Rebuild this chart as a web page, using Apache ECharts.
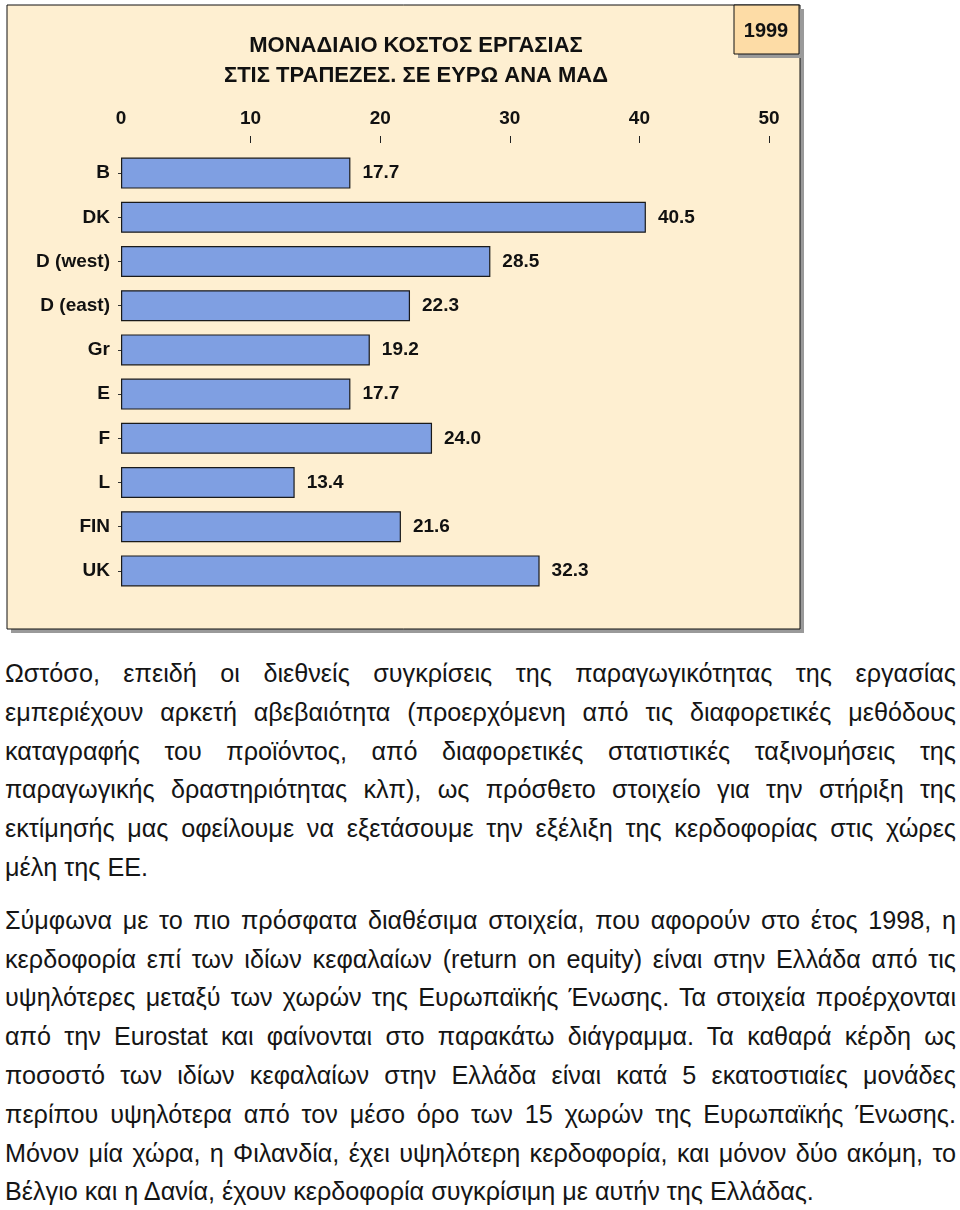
<!DOCTYPE html>
<html>
<head>
<meta charset="utf-8">
<script src="https://cdn.jsdelivr.net/npm/echarts@6/dist/echarts.min.js"></script>
<style>
html,body{margin:0;padding:0;background:#fff;}
#chart{position:absolute;left:0;top:0;width:960px;height:645px;}
#text{position:absolute;left:5px;top:654px;width:951px;font-family:"Liberation Sans",Arial,sans-serif;font-size:25.2px;color:#151515;}
.p{margin:0 0 14px 0;}
.l{display:block;height:38.8px;line-height:38.8px;white-space:nowrap;text-align:justify;text-align-last:justify;}
.l.last{text-align:left;text-align-last:left;}
</style>
</head>
<body>
<div id="chart"></div>
<div id="text"></div>
<script>
// ---- data ----
const categories = ['B', 'DK', 'D (west)', 'D (east)', 'Gr', 'E', 'F', 'L', 'FIN', 'UK'];
const values = [17.7, 40.5, 28.5, 22.3, 19.2, 17.7, 24.0, 13.4, 21.6, 32.3];
const tickLabels = ['0', '10', '20', '30', '40', '50'];
const titleLines = ['ΜΟΝΑΔΙΑΙΟ ΚΟΣΤΟΣ ΕΡΓΑΣΙΑΣ', 'ΣΤΙΣ ΤΡΑΠΕΖΕΣ. ΣΕ ΕΥΡΩ ΑΝΑ ΜΑΔ'];
const yearLabel = '1999';
const paragraph1 = [
  'Ωστόσο, επειδή οι διεθνείς συγκρίσεις της παραγωγικότητας της εργασίας',
  'εμπεριέχουν αρκετή αβεβαιότητα (προερχόμενη από τις διαφορετικές μεθόδους',
  'καταγραφής του προϊόντος, από διαφορετικές στατιστικές ταξινομήσεις της',
  'παραγωγικής δραστηριότητας κλπ), ως πρόσθετο στοιχείο για την στήριξη της',
  'εκτίμησής μας οφείλουμε να εξετάσουμε την εξέλιξη της κερδοφορίας στις χώρες',
  'μέλη της ΕΕ.'
];
const paragraph2 = [
  'Σύμφωνα με το πιο πρόσφατα διαθέσιμα στοιχεία, που αφορούν στο έτος 1998, η',
  'κερδοφορία επί των ιδίων κεφαλαίων (return on equity) είναι στην Ελλάδα από τις',
  'υψηλότερες μεταξύ των χωρών της Ευρωπαϊκής Ένωσης. Τα στοιχεία προέρχονται',
  'από την Eurostat και φαίνονται στο παρακάτω διάγραμμα. Τα καθαρά κέρδη ως',
  'ποσοστό των ιδίων κεφαλαίων στην Ελλάδα είναι κατά 5 εκατοστιαίες μονάδες',
  'περίπου υψηλότερα από τον μέσο όρο των 15 χωρών της Ευρωπαϊκής Ένωσης.',
  'Μόνον μία χώρα, η Φιλανδία, έχει υψηλότερη κερδοφορία, και μόνον δύο ακόμη, το',
  'Βέλγιο και η Δανία, έχουν κερδοφορία συγκρίσιμη με αυτήν της Ελλάδας.'
];

// ---- text below chart ----
const textDiv = document.getElementById('text');
[paragraph1, paragraph2].forEach(function (lines) {
  const p = document.createElement('div');
  p.className = 'p';
  lines.forEach(function (line, i) {
    const s = document.createElement('span');
    s.className = 'l' + (i === lines.length - 1 ? ' last' : '');
    s.textContent = line;
    p.appendChild(s);
  });
  textDiv.appendChild(p);
});

// ---- chart ----
const FONT = 'Liberation Sans';
const CREAM = '#FEEFD1';
const chart = echarts.init(document.getElementById('chart'), null, {renderer: 'canvas'});
chart.setOption({
  animation: false,
  backgroundColor: '#ffffff',
  graphic: [
    {type: 'rect', z: -10, shape: {x: 11, y: 9, width: 793, height: 624}, style: {fill: '#9a9a9a'}},
    {type: 'rect', z: -9, shape: {x: 7, y: 5, width: 793, height: 624}, style: {fill: CREAM, stroke: '#111', lineWidth: 1}},
    {type: 'rect', z: -8, shape: {x: 738, y: 9, width: 65, height: 49}, style: {fill: '#9a9a9a'}},
    {type: 'rect', z: -7, shape: {x: 734, y: 5, width: 65, height: 49}, style: {fill: '#FDDCA6', stroke: '#111', lineWidth: 1}},
    // the reference shows no tick mark at 0: mask it
    {type: 'rect', z: 50, shape: {x: 117, y: 134, width: 8, height: 11}, style: {fill: CREAM}},
    {type: 'text', z: 5, x: 766, y: 31, style: {text: yearLabel, font: 'bold 20px "Liberation Sans"', fill: '#111', align: 'center', verticalAlign: 'middle'}},
    {type: 'text', z: 5, x: 416, y: 46, style: {text: titleLines[0], font: 'bold 22px "Liberation Sans"', fill: '#111', align: 'center', verticalAlign: 'middle'}},
    {type: 'text', z: 5, x: 416, y: 76, style: {text: titleLines[1], font: 'bold 22px "Liberation Sans"', fill: '#111', align: 'center', verticalAlign: 'middle'}}
  ],
  grid: {left: 121, right: 191, top: 151, height: 442},
  xAxis: {
    type: 'value',
    position: 'top',
    min: 0, max: 50, interval: 10,
    offset: 8,
    axisLine: {show: false},
    axisTick: {show: true, length: 7, lineStyle: {color: '#222', width: 1}},
    axisLabel: {show: true, margin: 15, fontFamily: FONT, fontSize: 19, fontWeight: 'bold', color: '#111',
      formatter: function (v) { return tickLabels[Math.round(v / 10)]; }},
    splitLine: {show: false}
  },
  yAxis: {
    type: 'category',
    inverse: true,
    data: categories,
    axisLine: {show: false},
    axisTick: {show: true, alignWithLabel: true, length: 3, lineStyle: {color: '#333'}},
    axisLabel: {show: true, margin: 11, fontFamily: FONT, fontSize: 19, fontWeight: 'bold', color: '#111'}
  },
  series: [{
    type: 'bar',
    data: values,
    barWidth: 31,
    itemStyle: {color: '#7F9FE2', borderColor: '#1a1a1a', borderWidth: 1.2},
    label: {
      show: true, position: 'right', distance: 12,
      fontFamily: FONT, fontSize: 19, fontWeight: 'bold', color: '#111',
      formatter: function (p) { return p.value.toFixed(1); }
    }
  }]
});
</script>
</body>
</html>
